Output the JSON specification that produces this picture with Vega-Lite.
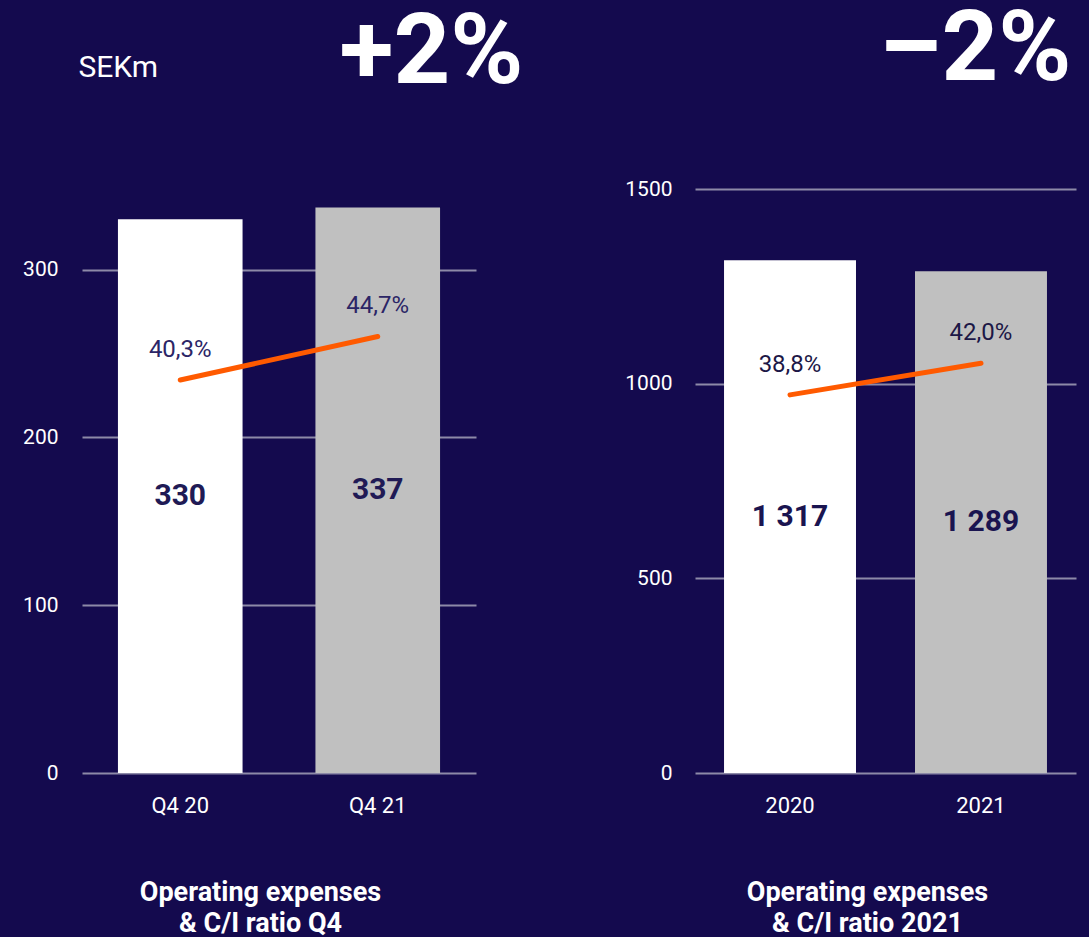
{
  "$schema": "https://vega.github.io/schema/vega-lite/v6.json",
  "background": "#140a4e",
  "padding": {"left": 22, "top": 0, "right": 13, "bottom": 0},
  "config": {
    "font": "Roboto",
    "view": {"stroke": null},
    "locale": {"number": {"decimal": ",", "thousands": " ", "grouping": [3], "currency": ["", "%"]}},
    "axis": {"labelColor": "#ffffff", "titleColor": "#ffffff", "domain": false, "ticks": false, "grid": false, "labelFont": "Roboto", "titleFont": "Roboto"}
  },
  "bounds": "flush",
  "spacing": 219,
  "hconcat": [
    {
      "width": 394,
      "height": 584,
      "data": {"values": [
        {"period": "Q4 20", "cost": 330, "ratio": 40.3},
        {"period": "Q4 21", "cost": 337, "ratio": 44.7}
      ]},
      "layer": [
        {
          "mark": {"type": "bar"},
          "encoding": {
            "x": {"field": "period", "type": "nominal", "sort": null,
              "scale": {"paddingInner": 0.369, "paddingOuter": 0.182},
              "axis": {"orient": "bottom", "labelFontSize": 22, "labelPadding": 22, "labelAngle": 0,
                "title": ["Operating expenses", "& C/I ratio Q4"], "titleFontSize": 27, "titleFontWeight": "bold",
                "titleLineHeight": 31, "titleX": 178, "titleY": 127.5, "titleAlign": "center", "titleBaseline": "alphabetic", "titleAnchor": null}},
            "y": {"field": "cost", "type": "quantitative", "scale": {"domain": [0, 348], "nice": false},
              "axis": {"values": [0, 100, 200, 300], "format": "d", "grid": true, "gridColor": "#8d8aa8", "gridWidth": 2,
                "labelFontSize": 21, "labelPadding": 24,
                "title": "SEKm", "titleAngle": 0, "titleX": -4, "titleY": -112.5, "titleAlign": "left",
                "titleBaseline": "alphabetic", "titleFontSize": 30, "titleFontWeight": "normal", "titleAnchor": null}},
            "color": {"field": "period", "type": "nominal", "scale": {"domain": ["Q4 20", "Q4 21"], "range": ["#ffffff", "#c0c0c0"]}, "legend": null}
          }
        },
        {
          "mark": {"type": "text", "fontSize": 30, "fontWeight": "bold", "color": "#201a55", "baseline": "middle"},
          "encoding": {
            "x": {"field": "period", "type": "nominal", "sort": null, "axis": null},
            "y": {"field": "cost", "type": "quantitative", "scale": {"domain": [0, 696], "nice": false}, "axis": null},
            "text": {"field": "cost", "type": "quantitative", "format": ","}
          }
        },
        {
          "mark": {"type": "line", "color": "#ff5a00", "strokeWidth": 5, "strokeCap": "round"},
          "encoding": {
            "x": {"field": "period", "type": "nominal", "sort": null,
              "axis": {"orient": "top", "labels": false, "title": "+2%", "titleFontSize": 99, "titleFontWeight": "bold",
                "titleX": 257, "titleY": -106.5, "titleAlign": "left", "titleBaseline": "alphabetic", "titleAnchor": null}},
            "y": {"field": "ratio", "type": "quantitative", "scale": {"domain": [0.6, 59.6], "nice": false, "zero": false}, "axis": null}
          }
        },
        {
          "mark": {"type": "text", "fontSize": 24, "color": "#2b2566", "baseline": "alphabetic", "dy": -23},
          "encoding": {
            "x": {"field": "period", "type": "nominal", "sort": null, "axis": null},
            "y": {"field": "ratio", "type": "quantitative", "scale": {"domain": [0.6, 59.6], "nice": false, "zero": false}, "axis": null},
            "text": {"field": "ratio", "type": "quantitative", "format": "$.1f"}
          }
        }
      ],
      "resolve": {"scale": {"y": "independent"}, "axis": {"x": "independent", "y": "independent"}}
    },
    {
      "width": 381,
      "height": 584,
      "data": {"values": [
        {"period": "2020", "cost": 1317, "ratio": 38.8},
        {"period": "2021", "cost": 1289, "ratio": 42.0}
      ]},
      "layer": [
        {
          "mark": {"type": "bar"},
          "encoding": {
            "x": {"field": "period", "type": "nominal", "sort": null,
              "scale": {"paddingInner": 0.309, "paddingOuter": 0.152},
              "axis": {"orient": "bottom", "labelFontSize": 22, "labelPadding": 22, "labelAngle": 0,
                "title": ["Operating expenses", "& C/I ratio 2021"], "titleFontSize": 27, "titleFontWeight": "bold",
                "titleLineHeight": 31, "titleX": 172, "titleY": 127.5, "titleAlign": "center", "titleBaseline": "alphabetic", "titleAnchor": null}},
            "y": {"field": "cost", "type": "quantitative", "scale": {"domain": [0, 1500], "nice": false},
              "axis": {"values": [0, 500, 1000, 1500], "format": "d", "grid": true, "gridColor": "#8d8aa8", "gridWidth": 2,
                "labelFontSize": 21, "labelPadding": 23, "title": null}},
            "color": {"field": "period", "type": "nominal", "scale": {"domain": ["2020", "2021"], "range": ["#ffffff", "#a6a6a6"]}, "legend": null}
          }
        },
        {
          "mark": {"type": "text", "fontSize": 30, "fontWeight": "bold", "color": "#1a1450", "baseline": "middle"},
          "encoding": {
            "x": {"field": "period", "type": "nominal", "sort": null, "axis": null},
            "y": {"field": "cost", "type": "quantitative", "scale": {"domain": [0, 3000], "nice": false}, "axis": null},
            "text": {"field": "cost", "type": "quantitative", "format": ","}
          }
        },
        {
          "mark": {"type": "line", "color": "#ff5a00", "strokeWidth": 5, "strokeCap": "round"},
          "encoding": {
            "x": {"field": "period", "type": "nominal", "sort": null,
              "axis": {"orient": "top", "labels": false, "title": "–2%", "titleFontSize": 99, "titleFontWeight": "bold",
                "titleX": 376, "titleY": -110, "titleAlign": "right", "titleBaseline": "alphabetic", "titleAnchor": null}},
            "y": {"field": "ratio", "type": "quantitative", "scale": {"domain": [0.6, 59.6], "nice": false, "zero": false}, "axis": null}
          }
        },
        {
          "mark": {"type": "text", "fontSize": 24, "color": "#1c1746", "baseline": "alphabetic", "dy": -23},
          "encoding": {
            "x": {"field": "period", "type": "nominal", "sort": null, "axis": null},
            "y": {"field": "ratio", "type": "quantitative", "scale": {"domain": [0.6, 59.6], "nice": false, "zero": false}, "axis": null},
            "text": {"field": "ratio", "type": "quantitative", "format": "$.1f"}
          }
        }
      ],
      "resolve": {"scale": {"y": "independent"}, "axis": {"x": "independent", "y": "independent"}}
    }
  ]
}
